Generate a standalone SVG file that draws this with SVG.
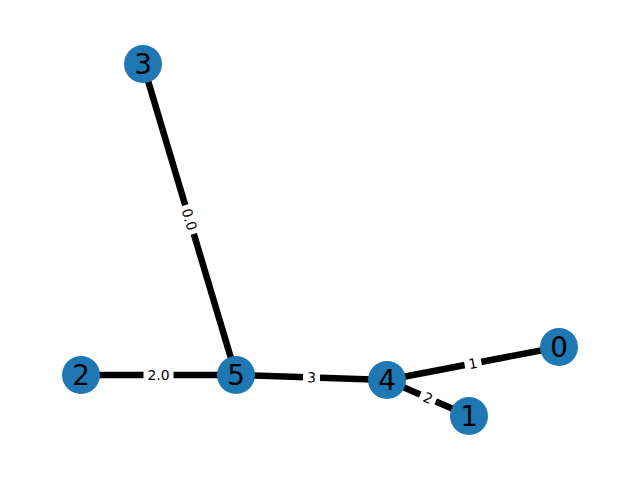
<svg xmlns="http://www.w3.org/2000/svg" width="640" height="480" viewBox="0 0 640 480">
<style>
.e{stroke:#000;stroke-width:6.5;fill:none}
.lb{fill:#fff}
.lt{font-family:"DejaVu Sans",sans-serif;font-size:13.9px;fill:#000;text-anchor:middle;dominant-baseline:central}
.n circle{fill:#1f77b4}
.n text{font-family:"DejaVu Sans",sans-serif;font-size:27.8px;fill:#000;text-anchor:middle;dominant-baseline:central}
</style>
<rect width="640" height="480" fill="#fff"/>
<g id="edges">
<line class="e" x1="143" y1="64" x2="236" y2="375"/>
<line class="e" x1="81" y1="375" x2="236" y2="375"/>
<line class="e" x1="236" y1="375" x2="387" y2="380"/>
<line class="e" x1="387" y1="380" x2="559" y2="347"/>
<line class="e" x1="387" y1="380" x2="469" y2="416"/>
<g transform="translate(189.5,219.5) rotate(73.35)"><rect class="lb" x="-15" y="-8" width="30" height="16"/><text class="lt" x="0" y="0">0.0</text></g>
<g transform="translate(158.5,375)"><rect class="lb" x="-15" y="-8" width="30" height="16"/><text class="lt" x="0" y="0">2.0</text></g>
<g transform="translate(311.5,377.5) rotate(1.9)"><rect class="lb" x="-8.5" y="-8" width="17" height="16"/><text class="lt" x="0" y="0">3</text></g>
<g transform="translate(473,363.5) rotate(-10.86)"><rect class="lb" x="-8.5" y="-8" width="17" height="16"/><text class="lt" x="0" y="0">1</text></g>
<g transform="translate(428,398) rotate(23.7)"><rect class="lb" x="-8.5" y="-8" width="17" height="16"/><text class="lt" x="0" y="0">2</text></g>
</g>
<g id="node0" class="n"><circle cx="559" cy="347" r="19"/><text x="559" y="347">0</text></g>
<g id="node1" class="n"><circle cx="469" cy="416" r="19"/><text x="469" y="416">1</text></g>
<g id="node2" class="n"><circle cx="81" cy="375" r="19"/><text x="81" y="375">2</text></g>
<g id="node3" class="n"><circle cx="143" cy="64" r="19"/><text x="143" y="64">3</text></g>
<g id="node4" class="n"><circle cx="387" cy="380" r="19"/><text x="387" y="380">4</text></g>
<g id="node5" class="n"><circle cx="236" cy="375" r="19"/><text x="236" y="375">5</text></g>
</svg>
